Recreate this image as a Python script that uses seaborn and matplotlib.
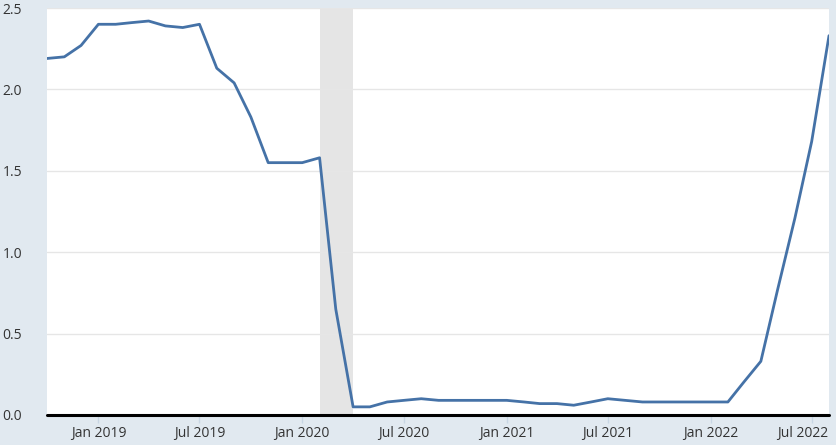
import matplotlib
matplotlib.use("Agg")
import matplotlib.pyplot as plt
import matplotlib.dates as mdates
import matplotlib.transforms as mtransforms
import seaborn as sns
import pandas as pd

months = pd.date_range("2018-10-01", "2022-08-01", freq="MS")
rate = [2.19, 2.20, 2.27, 2.40, 2.40, 2.41, 2.42, 2.39, 2.38, 2.40, 2.13, 2.04,
        1.83, 1.55, 1.55, 1.55, 1.58, 0.65, 0.05, 0.05, 0.08, 0.09, 0.10, 0.09,
        0.09, 0.09, 0.09, 0.09, 0.08, 0.07, 0.07, 0.06, 0.08, 0.10, 0.09, 0.08,
        0.08, 0.08, 0.08, 0.08, 0.08, 0.20, 0.33, 0.77, 1.21, 1.68, 2.33]
recession_start = "2020-02-01"
recession_end = "2020-04-01"
yticks = [0.0, 0.5, 1.0, 1.5, 2.0, 2.5]
xtick_dates = ["2019-01-01", "2019-07-01", "2020-01-01", "2020-07-01",
               "2021-01-01", "2021-07-01", "2022-01-01", "2022-07-01"]

df = pd.DataFrame({"date": months, "rate": rate})

sns.set_theme(style="white")
plt.rcParams["font.family"] = ["Open Sans", "DejaVu Sans"]

bg = "#e1e9f0"
fig = plt.figure(figsize=(8.37, 4.45), dpi=100, facecolor=bg)
ax = fig.add_axes([47 / 837, 30 / 445, 782 / 837, 407 / 445])
ax.set_facecolor("white")

ax.axvspan(pd.Timestamp(recession_start), pd.Timestamp(recession_end),
           color="#e5e5e5", zorder=0, lw=0)
for y in yticks[1:]:
    ax.axhline(y, color="#e6e6e6", lw=1, zorder=0.5)

sns.lineplot(data=df, x="date", y="rate", ax=ax, color="#4572a7", lw=2.0, zorder=3)
ax.axhline(0, color="black", lw=2.2, zorder=4, clip_on=False)

ax.set_xlim(months[0], months[-1])
ax.set_ylim(0, 2.5)
ax.set_yticks(yticks)
ax.set_yticklabels([f"{v:.1f}" for v in yticks])
ax.set_xticks([pd.Timestamp(d) for d in xtick_dates])
ax.xaxis.set_major_formatter(mdates.DateFormatter("%b %Y"))
ax.set_xlabel("")
ax.set_ylabel("")

for s in ax.spines.values():
    s.set_visible(False)

ax.tick_params(axis="x", length=6, width=1, color="#c8d6e4", pad=2,
               labelsize=10, labelcolor="#333333", direction="out", bottom=True)
ax.tick_params(axis="y", length=0, pad=18, labelsize=10, labelcolor="#333333", left=False)

# keep the last x label inside the figure, as in the reference
last = ax.get_xticklabels()[-1]
last.set_transform(last.get_transform() +
                   mtransforms.ScaledTranslation(-9 / 100, 0, fig.dpi_scale_trans))

fig.savefig("out.png", dpi=100, facecolor=bg)
